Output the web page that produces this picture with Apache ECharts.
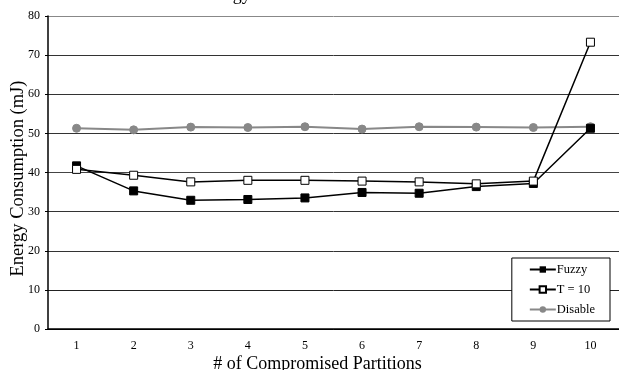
<!DOCTYPE html>
<html>
<head>
<meta charset="utf-8">
<script src="https://cdn.jsdelivr.net/npm/echarts@6/dist/echarts.min.js"></script>
<style>html,body{margin:0;padding:0;background:#fff}#c{width:619px;height:370px}</style>
</head>
<body>
<div id="c"></div>
<script>
var categories = ['1','2','3','4','5','6','7','8','9','10'];
var fuzzy   = [41.7, 35.3, 32.9, 33.1, 33.5, 34.9, 34.7, 36.4, 37.2, 51.3];
var t10     = [40.8, 39.3, 37.6, 38.0, 38.0, 37.8, 37.6, 37.1, 37.8, 73.3];
var disable = [51.3, 50.9, 51.6, 51.5, 51.7, 51.1, 51.7, 51.6, 51.5, 51.7];

var font = 'Liberation Serif, Times New Roman, serif';
var chart = echarts.init(document.getElementById('c'), null, {renderer:'canvas'});
chart.setOption({
  animation: false,
  backgroundColor: '#fff',
  graphic: [{
    type: 'text',
    x: 199, y: 4,
    silent: true,
    style: {text: 'Energy', fontFamily: font, fontSize: 18, fill: '#000', verticalAlign: 'bottom', align: 'left'}
  }],
  grid: {left: 48, right: 0, top: 16, bottom: 41, containLabel: false, outerBoundsMode: 'none'},
  legend: {
    orient: 'vertical',
    right: 9, top: 258,
    backgroundColor: '#fff',
    borderColor: '#000', borderWidth: 1,
    padding: [5, 15, 5, 17],
    itemGap: 7,
    itemWidth: 26, itemHeight: 8,
    textStyle: {fontFamily: font, fontSize: 12.5, color: '#000', padding: [0,0,0,-4]},
    data: ['Fuzzy', 'T = 10', 'Disable']
  },
  xAxis: {
    type: 'category',
    data: categories,
    boundaryGap: true,
    name: '# of Compromised Partitions',
    nameLocation: 'middle',
    nameGap: 26,
    nameMoveOverlap: false,
    nameTextStyle: {fontFamily: font, fontSize: 18, color: '#000', padding: [0, 32, 0, 0]},
    axisLine: {lineStyle: {color: '#000', width: 1.5}},
    axisTick: {inside: true, length: 4, lineStyle: {color: '#000'}},
    axisLabel: {fontFamily: font, fontSize: 12, color: '#000', margin: 11}
  },
  yAxis: {
    type: 'value',
    min: 0, max: 80, interval: 10,
    name: 'Energy Consumption (mJ)',
    nameLocation: 'middle',
    nameGap: 20,
    nameMoveOverlap: false,
    nameTextStyle: {fontFamily: font, fontSize: 18.5, color: '#000', padding: [0, 12, 0, 0]},
    axisLine: {show: true, lineStyle: {color: '#000', width: 1.5}},
    axisTick: {show: true, length: 3, lineStyle: {color: '#000'}},
    axisLabel: {fontFamily: font, fontSize: 12, color: '#000', margin: 8},
    splitLine: {lineStyle: {color: ['#000','#222','#333','#333','#444','#333','#333','#333','#888'], width: 1}}
  },
  series: [
    {
      name: 'Disable', type: 'line', data: disable, z: 2,
      symbol: 'circle', symbolSize: 8,
      lineStyle: {color: '#888', width: 2},
      itemStyle: {color: '#888', borderColor: '#888'}
    },
    {
      name: 'Fuzzy', type: 'line', data: fuzzy, z: 3,
      symbol: 'rect', symbolSize: 8,
      lineStyle: {color: '#000', width: 1.5},
      itemStyle: {color: '#000', borderColor: '#000'}
    },
    {
      name: 'T = 10', type: 'line', data: t10, z: 4,
      symbol: 'rect', symbolSize: 8,
      lineStyle: {color: '#000', width: 1.5},
      itemStyle: {color: '#fff', borderColor: '#000', borderWidth: 1}
    }
  ]
});
</script>
</body>
</html>
